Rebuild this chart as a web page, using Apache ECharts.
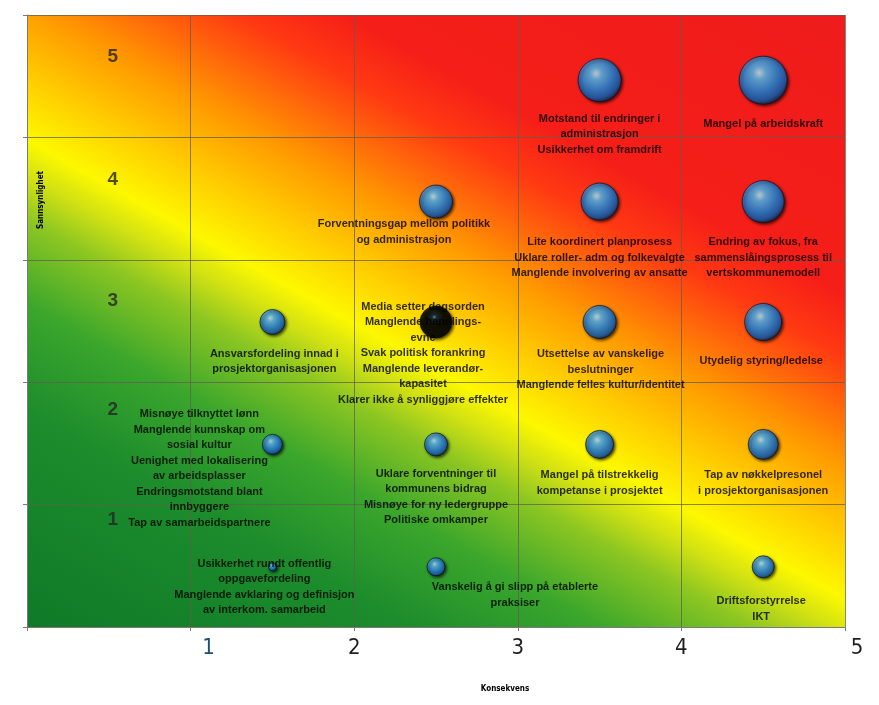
<!DOCTYPE html>
<html><head><meta charset="utf-8">
<script src="https://cdn.jsdelivr.net/npm/echarts@6/dist/echarts.min.js"></script>
<style>html,body{margin:0;padding:0;background:#fff}#c{width:879px;height:705px}</style>
</head><body><div id="c"></div>
<script>
// ---------- data ----------
const xTickLabels = ['', '1', '2', '3', '4', '5'];
const rowLabels = ['1', '2', '3', '4', '5'];
const xAxisTitle = 'Konsekvens';
const yAxisTitle = 'Sannsynlighet';
const riskConsequence = [4, 5, 3, 4, 5, 2, 3, 4, 5, 2, 3, 4, 5, 2, 3, 5];
const riskProbability = [5, 5, 4, 4, 4, 3, 3, 3, 3, 2, 2, 2, 2, 1, 1, 1];
const riskWeight      = [43, 48, 33, 37, 42, 25, 32, 33, 37, 20, 23, 28, 30, 8, 18, 22];
const riskText = [
  'Motstand til endringer i\nadministrasjon\nUsikkerhet om framdrift',
  'Mangel på arbeidskraft',
  'Forventningsgap mellom politikk\nog administrasjon',
  'Lite koordinert planprosess\nUklare roller- adm og folkevalgte\nManglende involvering av ansatte',
  'Endring av fokus, fra\nsammenslåingsprosess til\nvertskommunemodell',
  'Ansvarsfordeling innad i\nprosjektorganisasjonen',
  'Media setter dagsorden\nManglende handlings-\nevne\nSvak politisk forankring\nManglende leverandør-\nkapasitet\nKlarer ikke å synliggjøre effekter',
  'Utsettelse av vanskelige\nbeslutninger\nManglende felles kultur/identitet',
  'Utydelig styring/ledelse',
  'Misnøye tilknyttet lønn\nManglende kunnskap om\nsosial kultur\nUenighet med lokalisering\nav arbeidsplasser\nEndringsmotstand blant\ninnbyggere\nTap av samarbeidspartnere',
  'Uklare forventninger til\nkommunens bidrag\nMisnøye for ny ledergruppe\nPolitiske omkamper',
  'Mangel på tilstrekkelig\nkompetanse i prosjektet',
  'Tap av nøkkelpresonel\ni prosjektorganisasjonen',
  'Usikkerhet rundt offentlig\noppgavefordeling\nManglende avklaring og definisjon\nav interkom. samarbeid',
  'Vanskelig å gi slipp på etablerte\npraksiser',
  'Driftsforstyrrelse\nIKT'
];

// ---------- layout / style ----------
const labelOffsets = [[0,54],[0,44],[-32,30.5],[0,56],[0,56],[2,39.5],[-13,31],[1,47.5],[-2,39],[-73,24],[0,52.5],[0,38.5],[0,38.5],[-8,20],[79,28],[-2,42]];
const bubbleNudge = [4, 4, 3, 3, 3, 1, 1, 1, 1, 1, 1, 1, 1, 1, 1, 1];
const darkBubbleIndex = 6;
const rowLabelOffsets = [[4,-46],[4,-34],[4,-20],[4,-19],[4,-19]];
const narrow = "'Liberation Sans Narrow','DejaVu Sans Condensed','Liberation Sans',sans-serif";

const bgGradient = {type:'linear', x:0, y:1, x2:0.559, y2:-0.33, colorStops:[
  {offset:0, color:'#0f7a28'},{offset:0.2, color:'#1c8c2c'},{offset:0.3, color:'#3aa62c'},
  {offset:0.38, color:'#8cc622'},{offset:0.42, color:'#cfe014'},{offset:0.455, color:'#fdf800'},
  {offset:0.52, color:'#ffc800'},{offset:0.58, color:'#ff9a00'},{offset:0.63, color:'#ff6a0a'},
  {offset:0.68, color:'#ff3a12'},{offset:0.74, color:'#f51e18'},{offset:1, color:'#ee1c1c'}]};
const sphere = {type:'radial', x:0.42, y:0.35, r:0.7, colorStops:[
  {offset:0, color:'#d0f2ff'},{offset:0.2, color:'#62c0f8'},{offset:0.55, color:'#2d8ae0'},
  {offset:0.8, color:'#1c62b8'},{offset:1, color:'#0a1a33'}]};
const darkSphere = {type:'radial', x:0.45, y:0.35, r:0.7, colorStops:[
  {offset:0, color:'#3fa0e0'},{offset:0.1, color:'#0a2030'},{offset:0.4, color:'#000'},{offset:1, color:'#000'}]};

const bubbleData = riskText.map((t, i) => ({
  value: [riskConsequence[i] - 0.5, riskProbability[i] - 0.5, riskWeight[i]],
  symbolOffset: [0, bubbleNudge[i]],
  label: {offset: labelOffsets[i]},
  itemStyle: i === darkBubbleIndex ? {color: darkSphere} : undefined
}));
const rowLabelData = rowLabels.map((t, i) => ({
  value: [0.5, i + 0.5],
  label: {formatter: t, offset: rowLabelOffsets[i]}
}));

const chart = echarts.init(document.getElementById('c'));
chart.setOption({
  backgroundColor: '#fff',
  animation: false,
  grid: {left: 27, right: 34, top: 15, bottom: 78, show: true, backgroundColor: bgGradient, borderWidth: 0},
  xAxis: {
    type: 'value', min: 0, max: 5, interval: 1,
    axisLine: {show: true, lineStyle: {color: '#7a7a7a', width: 1}},
    axisTick: {show: true, length: 4, lineStyle: {color: '#7a7a7a'}},
    splitLine: {show: true, lineStyle: {color: 'rgba(95,95,80,0.75)', width: 1}},
    axisLabel: {
      margin: 10,
      formatter: v => {
        const t = xTickLabels[v] || '';
        if (t === '1') return '{one|' + t + '}';
        if (t === '5') return '{five|' + t + '}';
        return '{n|' + t + '}';
      },
      rich: {
        n: {fontFamily: narrow, fontSize: 22, color: '#1e1e1e'},
        one: {fontFamily: narrow, fontSize: 22, color: '#1f4e79', padding: [0,0,0,36]},
        five: {fontFamily: narrow, fontSize: 22, color: '#1e1e1e', padding: [0,0,0,24]}
      }
    },
    name: xAxisTitle, nameLocation: 'middle', nameGap: 58,
    nameTextStyle: {fontFamily: narrow, fontSize: 8, fontWeight: 'bold', color: '#000', padding: [0,0,0,138]}
  },
  yAxis: {
    type: 'value', min: 0, max: 5, interval: 1,
    axisLine: {show: true, lineStyle: {color: '#7a7a7a', width: 1}},
    axisTick: {show: true, length: 4, lineStyle: {color: '#7a7a7a'}},
    splitLine: {show: true, lineStyle: {color: 'rgba(95,95,80,0.75)', width: 1}},
    axisLabel: {show: false}
  },
  graphic: [{
    type: 'text', x: 41, y: 200, rotation: Math.PI / 2,
    style: {text: yAxisTitle, font: "bold 8px " + narrow, fill: '#000', textAlign: 'center', textVerticalAlign: 'middle'}
  }],
  series: [
    {
      type: 'scatter', name: 'rows', silent: true, symbolSize: 0, z: 3,
      data: rowLabelData,
      label: {show: true, position: 'inside', fontFamily: "'Liberation Sans',sans-serif", fontWeight: 'bold', fontSize: 19, color: '#262626'}
    },
    {
      type: 'scatter', name: 'risks', silent: true, z: 4,
      symbol: 'circle',
      symbolSize: v => v[2],
      data: bubbleData,
      itemStyle: {color: sphere, borderColor: 'rgba(5,15,30,0.85)', borderWidth: 1,
        shadowColor: 'rgba(0,0,0,0.85)', shadowBlur: 3, shadowOffsetX: 1.5, shadowOffsetY: 1.5},
      label: {
        show: true, position: 'inside', align: 'center', verticalAlign: 'middle',
        formatter: p => riskText[p.dataIndex],
        fontFamily: "'Liberation Sans',Arial,sans-serif", fontWeight: 'bold', fontSize: 11,
        lineHeight: 15.5, color: '#000'
      }
    }
  ]
});
</script></body></html>
